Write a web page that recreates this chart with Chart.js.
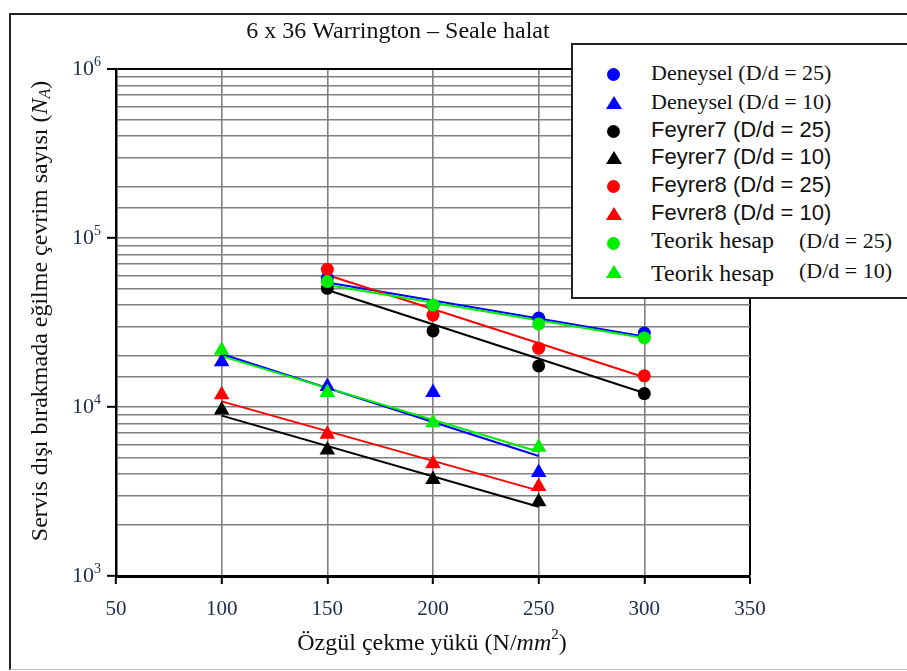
<!DOCTYPE html>
<html>
<head>
<meta charset="utf-8">
<script src="https://cdn.jsdelivr.net/npm/chart.js@4.4.1/dist/chart.umd.min.js"></script>
<style>
  html, body { margin:0; padding:0; background:#fff; overflow:hidden; }
  #wrap { position:relative; width:907px; height:671px; }
  #frame { position:absolute; left:9px; top:13px; width:920px; height:654px;
           border-left:2px solid #222; border-top:2px solid #222; border-bottom:1px solid #bbb; }
  #legend { position:absolute; left:571px; top:43px; width:360px; height:252px;
            border:2px solid #222; background:#fff; }
  .row { position:absolute; left:0; height:28px; width:100%; }
  .mk { position:absolute; left:34px; }
  .dot { width:13px; height:13px; border-radius:50%; top:-6px; }
  .tri { width:0; height:0; border-left:8px solid transparent; border-right:8px solid transparent; top:-7px; }
  .lbl { position:absolute; left:78px; top:-14px; white-space:nowrap; color:#111; }
  .serif { font:22px "Liberation Serif", serif; }
  .sans  { font:22px "Liberation Sans", Arial, sans-serif; }
  .big   { font:24px "Liberation Serif", serif; }
  .ratio { position:absolute; left:226px; top:-14px; font:22px "Liberation Serif", serif; color:#111; }
</style>
</head>
<body>
<div id="wrap">
  <div id="frame"></div>
  <canvas id="c" width="907" height="671"></canvas>
  <div id="legend"></div>
</div>
<script>
// --- data ---
const loadsD25 = [150, 200, 250, 300];
const loadsD10 = [100, 150, 200, 250];

const deneysel25 = [58000, 40000, 33600, 27400];
const deneysel10 = [18500, 13200, 12200, 4090];
const feyrer7_25 = [50400, 28200, 17500, 12000];
const feyrer7_10 = [9600, 5570, 3730, 2750];
const feyrer8_25 = [65300, 35000, 22300, 15300];
const feyrer8_10 = [11800, 6900, 4620, 3380];
const teorik25   = [55200, 40100, 31000, 25600];
const teorik10   = [21700, 12200, 8080, 5770];

// trend line end values (first / last load of each group)
const fitX25 = [150, 300];
const fitX10 = [100, 250];
const fitDeneysel25 = [54500, 26100];
const fitDeneysel10 = [20600, 5130];
const fitFeyrer7_25 = [49200, 12100];
const fitFeyrer7_10 = [8890, 2570];
const fitFeyrer8_25 = [60400, 15000];
const fitFeyrer8_10 = [10800, 3200];
const fitTeorik25   = [52700, 25600];
const fitTeorik10   = [20000, 5440];

const xTicks = [50, 100, 150, 200, 250, 300, 350];
const yDecades = [3, 4, 5, 6];

const BLUE = '#0000ff', BLACK = '#000000', RED = '#ff0000', GREEN = '#00ee00';

const pts = (xs, ys) => xs.map((x, i) => ({ x, y: ys[i] }));

function markers(label, xs, ys, color, style, order) {
  return {
    type: 'scatter', label, data: pts(xs, ys), showLine: false,
    pointStyle: style, pointRadius: style === 'triangle' ? 9 : 6.5,
    backgroundColor: color, borderColor: color, borderWidth: 0, order
  };
}
function trend(xs, ys, color, order) {
  return {
    type: 'line', label: '', data: pts(xs, ys), borderColor: color,
    borderWidth: 2, pointRadius: 0, fill: false, order
  };
}

const datasets = [
  trend(fitX25, fitDeneysel25, BLUE, 20),
  trend(fitX10, fitDeneysel10, BLUE, 19),
  trend(fitX25, fitFeyrer7_25, BLACK, 18),
  trend(fitX10, fitFeyrer7_10, BLACK, 17),
  trend(fitX25, fitFeyrer8_25, RED, 16),
  trend(fitX10, fitFeyrer8_10, RED, 15),
  trend(fitX25, fitTeorik25, GREEN, 14),
  trend(fitX10, fitTeorik10, GREEN, 13),
  markers('Deneysel (D/d = 25)', loadsD25, deneysel25, BLUE, 'circle', 8),
  markers('Deneysel (D/d = 10)', loadsD10, deneysel10, BLUE, 'triangle', 7),
  markers('Feyrer7 (D/d = 25)', loadsD25, feyrer7_25, BLACK, 'circle', 6),
  markers('Feyrer7 (D/d = 10)', loadsD10, feyrer7_10, BLACK, 'triangle', 5),
  markers('Feyrer8 (D/d = 25)', loadsD25, feyrer8_25, RED, 'circle', 4),
  markers('Fevrer8 (D/d = 10)', loadsD10, feyrer8_10, RED, 'triangle', 3),
  markers('Teorik hesap (D/d = 25)', loadsD25, teorik25, GREEN, 'circle', 2),
  markers('Teorik hesap (D/d = 10)', loadsD10, teorik10, GREEN, 'triangle', 1)
];

const isDecade = v => Math.abs(Math.log10(v) - Math.round(Math.log10(v))) < 1e-9;
const SERIF = '"Liberation Serif", "Times New Roman", serif';

// draws a run of text pieces with their own fonts, centred on (cx, cy)
function richText(ctx, parts, cx, cy, rot) {
  ctx.save();
  ctx.translate(cx, cy);
  ctx.rotate(rot || 0);
  ctx.textBaseline = 'middle';
  ctx.textAlign = 'left';
  let w = 0;
  parts.forEach(p => { ctx.font = p.font; p.w = ctx.measureText(p.t).width; w += p.w; });
  let x = -w / 2;
  parts.forEach(p => {
    ctx.font = p.font;
    ctx.fillStyle = p.color || '#111';
    ctx.fillText(p.t, x, p.dy || 0);
    x += p.w;
  });
  ctx.restore();
}

const decor = {
  id: 'decor',
  afterDraw(chart) {
    const ctx = chart.ctx, y = chart.scales.y;
    // y tick labels 10^n
    yDecades.forEach(n => {
      const py = y.getPixelForValue(Math.pow(10, n));
      ctx.save();
      ctx.textBaseline = 'middle';
      ctx.textAlign = 'right';
      ctx.fillStyle = '#252b4d';
      ctx.font = '14px ' + SERIF;
      ctx.fillText(String(n), 101, py - 7);
      const ew = ctx.measureText(String(n)).width;
      ctx.font = '22px ' + SERIF;
      ctx.fillText('10', 101 - ew, py);
      ctx.restore();
    });
    // chart title
    richText(ctx, [{ t: '6 x 36 Warrington – Seale halat', font: '24px ' + SERIF }], 398, 32);
    // x title
    richText(ctx, [
      { t: 'Özgül çekme yükü (N/', font: '24px ' + SERIF },
      { t: 'mm', font: 'italic 24px ' + SERIF },
      { t: '2', font: '15px ' + SERIF, dy: -9 },
      { t: ')', font: '24px ' + SERIF }
    ], 432, 644);
    // y title
    richText(ctx, [
      { t: 'Servis dışı bırakmada eğilme çevrim sayısı (', font: '24px ' + SERIF },
      { t: 'N', font: 'italic 24px ' + SERIF },
      { t: 'A', font: 'italic 16px ' + SERIF, dy: 5 },
      { t: ')', font: '24px ' + SERIF }
    ], 41, 311, -Math.PI / 2);
  }
};

new Chart(document.getElementById('c'), {
  data: { datasets },
  plugins: [decor],
  options: {
    responsive: false,
    devicePixelRatio: 1,
    animation: false,
    layout: { padding: { left: 0, top: 69, right: 157, bottom: 0 } },
    plugins: { legend: { display: false }, title: { display: false }, tooltip: { enabled: false } },
    scales: {
      x: {
        type: 'linear', min: 50, max: 350,
        afterBuildTicks: s => { s.ticks = xTicks.map(v => ({ value: v })); },
        ticks: { font: { family: SERIF, size: 21 }, color: '#252b4d', padding: 13, maxRotation: 0 },
        grid: {
          color: c => c.tick && c.tick.value === 350 ? '#000' : '#808080',
          lineWidth: c => c.tick && c.tick.value === 350 ? 2 : 1.6,
          tickColor: '#000', tickLength: 8, tickWidth: 2
        },
        border: { color: '#000', width: 3 },
        afterFit: s => { s.height = 95; }
      },
      y: {
        type: 'logarithmic', min: 1000, max: 1000000,
        ticks: { callback: () => '', autoSkip: false },
        grid: {
          color: c => c.tick && c.tick.value === 1e6 ? '#000' : '#808080',
          lineWidth: c => c.tick && c.tick.value === 1e6 ? 2 : 1.6,
          tickColor: c => c.tick && isDecade(c.tick.value) ? '#000' : 'rgba(0,0,0,0)',
          tickLength: 9, tickWidth: 2
        },
        border: { color: '#000', width: 2.5 },
        afterFit: s => { s.width = 116; }
      }
    }
  }
});

// legend in the top right box
const legendRows = [29, 58, 86, 113, 141, 169, 198, 227];
const legendFonts = ['serif', 'serif', 'sans', 'sans', 'sans', 'sans', 'big', 'big'];
const legend = document.getElementById('legend');
datasets.filter(d => d.label).forEach((d, i) => {
  const row = document.createElement('div');
  row.className = 'row';
  row.style.top = legendRows[i] + 'px';
  const mk = document.createElement('div');
  if (d.pointStyle === 'circle') {
    mk.className = 'mk dot';
    mk.style.background = d.backgroundColor;
  } else {
    mk.className = 'mk tri';
    mk.style.borderBottom = '13px solid ' + d.backgroundColor;
    mk.style.left = '33px';
  }
  row.appendChild(mk);
  const lbl = document.createElement('span');
  lbl.className = 'lbl ' + legendFonts[i];
  if (d.label.startsWith('Teorik')) {
    lbl.textContent = 'Teorik hesap';
    lbl.style.top = i === 7 ? '-12px' : '-16px';
    const r = document.createElement('span');
    r.className = 'ratio';
    r.textContent = d.label.replace('Teorik hesap ', '');
    r.style.top = i === 7 ? '-14px' : '-15px';
    row.appendChild(r);
  } else {
    lbl.textContent = d.label;
  }
  row.appendChild(lbl);
  legend.appendChild(row);
});
</script>
</body>
</html>
